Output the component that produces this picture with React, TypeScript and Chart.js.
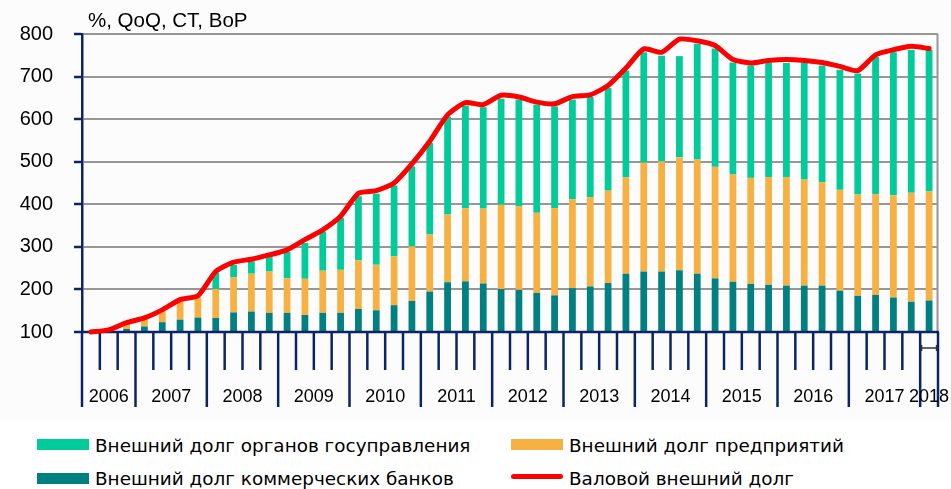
import React, { useEffect, useRef } from 'react';
import { Chart, registerables } from 'chart.js';

Chart.register(...registerables);

// ---------- data ----------
const years = ['2006', '2007', '2008', '2009', '2010', '2011', '2012', '2013', '2014', '2015', '2016', '2017', '2018'];
const quartersPerYear = [3, 4, 4, 4, 4, 4, 4, 4, 4, 4, 4, 4, 1];
const firstQuarterOfFirstYear = 2;

// stacked bar segments (index, base = 100)
const banks = [100, 103, 107, 113, 123, 129, 134, 133, 146, 148, 145, 145, 140, 145, 145, 154, 151, 163, 173, 195, 217, 219, 214, 201, 199, 192, 186, 203, 207, 215, 237, 242, 242, 245, 237, 226, 218, 213, 211, 209, 209, 209, 197, 185, 187, 181, 171, 174];
const enterprises = [0, 2, 10, 17, 25, 43, 46, 68, 83, 89, 97, 81, 85, 99, 101, 114, 107, 115, 128, 134, 159, 172, 176, 198, 196, 188, 205, 209, 210, 217, 226, 256, 259, 265, 268, 262, 252, 249, 253, 255, 249, 243, 237, 238, 237, 240, 256, 256];
const government = [0, 0, 2, 0, 0, 0, 1, 38, 29, 29, 34, 62, 84, 92, 122, 151, 167, 166, 188, 215, 230, 241, 238, 249, 251, 254, 239, 234, 235, 241, 251, 259, 248, 238, 272, 278, 263, 264, 268, 268, 274, 274, 282, 284, 322, 336, 336, 333];
const grossDebt = [100, 105, 122, 133, 152, 176, 185, 242, 264, 271, 281, 293, 317, 340, 372, 426, 432, 450, 495, 548, 610, 639, 634, 656, 652, 640, 636, 653, 657, 679, 720, 765, 757, 788, 784, 773, 740, 732, 738, 740, 738, 733, 724, 714, 751, 763, 771, 766];

const yTicks = [100, 200, 300, 400, 500, 600, 700, 800];

const seriesNames = {
  gov: 'Внешний долг органов госуправления',
  ent: 'Внешний долг предприятий',
  bank: 'Внешний долг коммерческих банков',
  gross: 'Валовой внешний долг',
};
const titleText = '%, QoQ, CT, BoP';

// ---------- styles ----------
const GREEN = '#00CC99';
const TEAL = '#008080';
const ORANGE = '#F7B142';
const RED = '#FF0000';
const NAVY = '#0A2467';
const GRID = '#979797';

const categories: string[] = [];
const yearStartIdx: number[] = [];
years.forEach((y, yi) => {
  yearStartIdx.push(categories.length);
  const q0 = yi === 0 ? firstQuarterOfFirstYear : 1;
  for (let k = 0; k < quartersPerYear[yi]; k++) categories.push(`${y} Q${q0 + k}`);
});

const axisDecor = {
  id: 'axisDecor',
  beforeDatasetsDraw(chart: any) {
    const { ctx, chartArea } = chart;
    ctx.save();
    ctx.strokeStyle = GRID;
    ctx.lineWidth = 2;
    ctx.beginPath();
    ctx.moveTo(chartArea.right - 0.5, chartArea.top);
    ctx.lineTo(chartArea.right - 0.5, chartArea.bottom);
    ctx.stroke();
    ctx.restore();
  },
  afterDatasetDraw(chart: any, args: any) {
    if (args.index !== 0) return;
    const { ctx, chartArea, scales } = chart;
    const x = scales.x;
    const n = categories.length;
    const step = x.getPixelForValue(1) - x.getPixelForValue(0);
    const left = x.getPixelForValue(0) - step / 2;
    const bottom = chartArea.bottom;
    ctx.save();
    ctx.strokeStyle = NAVY;
    ctx.lineWidth = 2.5;
    for (let i = 0; i <= n; i++) {
      const px = left + i * step;
      const isYear = yearStartIdx.includes(i) || i === n;
      ctx.beginPath();
      ctx.moveTo(px, bottom);
      ctx.lineTo(px, bottom + (isYear ? 75 : 38));
      ctx.stroke();
    }
    ctx.beginPath();
    ctx.moveTo(chartArea.left - 1, bottom);
    ctx.lineTo(chartArea.right + 1, bottom);
    ctx.stroke();
    ctx.fillStyle = '#000';
    ctx.font = '18px "Liberation Sans", Arial, sans-serif';
    ctx.textAlign = 'center';
    ctx.textBaseline = 'alphabetic';
    years.forEach((y, yi) => {
      const s = yearStartIdx[yi];
      const e = s + quartersPerYear[yi];
      const cx = left + ((s + e) / 2) * step;
      ctx.fillText(y, cx, bottom + 70);
    });
    const lx = x.getPixelForValue(n - 1);
    const hw = step * 0.42;
    const my = bottom + 16;
    ctx.strokeStyle = '#333';
    ctx.lineWidth = 1.5;
    ctx.beginPath();
    ctx.moveTo(lx - hw, my);
    ctx.lineTo(lx + hw, my);
    ctx.moveTo(lx - hw, my - 3);
    ctx.lineTo(lx - hw, my + 3);
    ctx.moveTo(lx + hw, my - 3);
    ctx.lineTo(lx + hw, my + 3);
    ctx.stroke();
    ctx.restore();
  },
};

export default function App() {
  const ref = useRef<HTMLCanvasElement | null>(null);

  useEffect(() => {
    if (!ref.current) return;
    const chart = new Chart(ref.current, {
      type: 'bar',
      data: {
        labels: categories,
        datasets: [
          { type: 'bar', label: seriesNames.bank, data: banks, backgroundColor: TEAL, order: 1, stack: 'debt' },
          { type: 'bar', label: seriesNames.ent, data: enterprises, backgroundColor: ORANGE, order: 1, stack: 'debt' },
          { type: 'bar', label: seriesNames.gov, data: government, backgroundColor: GREEN, order: 1, stack: 'debt' },
          {
            type: 'line',
            label: seriesNames.gross,
            data: grossDebt,
            borderColor: RED,
            backgroundColor: RED,
            borderWidth: 5,
            pointRadius: 0,
            tension: 0.2,
            borderCapStyle: 'round',
            borderJoinStyle: 'round',
            order: 0,
            stack: 'gross',
            clip: false,
          } as any,
        ],
      },
      options: {
        responsive: false,
        animation: false,
        maintainAspectRatio: false,
        layout: { padding: { left: 0, right: 13, top: 34, bottom: 0 } },
        plugins: { legend: { display: false }, tooltip: { enabled: false } },
        datasets: { bar: { categoryPercentage: 1, barPercentage: 0.38 } },
        scales: {
          x: {
            type: 'category',
            stacked: true,
            offset: true,
            grid: { display: false, drawTicks: false },
            border: { display: false },
            ticks: { display: false },
            afterFit: (axis: any) => { axis.height = 88; },
          },
          y: {
            stacked: true,
            min: yTicks[0],
            max: yTicks[yTicks.length - 1],
            afterBuildTicks: (axis: any) => { axis.ticks = yTicks.map((v) => ({ value: v })); },
            ticks: {
              color: '#000',
              padding: 21,
              font: { family: '"Liberation Sans", Arial, sans-serif', size: 20 },
            },
            grid: { color: GRID, lineWidth: 2, tickColor: NAVY, tickLength: 8, tickWidth: 2.5 },
            border: { color: NAVY, width: 2.5 },
            afterFit: (axis: any) => { axis.width = 82; },
          },
        },
      },
      plugins: [axisDecor],
    });
    return () => chart.destroy();
  }, []);

  const legendText: React.CSSProperties = {
    position: 'absolute',
    fontFamily: '"DejaVu Sans", Verdana, sans-serif',
    fontSize: 18.4,
    lineHeight: '21px',
    color: '#000',
    whiteSpace: 'nowrap',
  };
  const box = (left: number, top: number, color: string): React.CSSProperties => ({
    position: 'absolute', left, top, width: 52, height: 11, background: color,
  });

  return (
    <div style={{ position: 'absolute', left: 0, top: 0, width: 951, height: 489, background: '#fff', overflow: 'hidden' }}>
      <canvas ref={ref} width={951} height={420} style={{ position: 'absolute', left: 0, top: 0, width: 951, height: 420, background: '#fcfcfd' }} />
      <div style={{ position: 'absolute', left: 88, top: 8, fontFamily: '"Liberation Sans", Arial, sans-serif', fontSize: 20.5, lineHeight: '24px', color: '#000', whiteSpace: 'nowrap' }}>{titleText}</div>

      <div style={box(37, 439, GREEN)} />
      <div style={{ ...legendText, left: 95, top: 435 }}>{seriesNames.gov}</div>
      <div style={box(511, 439, ORANGE)} />
      <div style={{ ...legendText, left: 569, top: 435 }}>{seriesNames.ent}</div>
      <div style={box(37, 473, TEAL)} />
      <div style={{ ...legendText, left: 95, top: 468 }}>{seriesNames.bank}</div>
      <div style={{ position: 'absolute', left: 511, top: 474, width: 52, height: 5, borderRadius: 3, background: RED }} />
      <div style={{ ...legendText, left: 569, top: 468 }}>{seriesNames.gross}</div>
    </div>
  );
}
